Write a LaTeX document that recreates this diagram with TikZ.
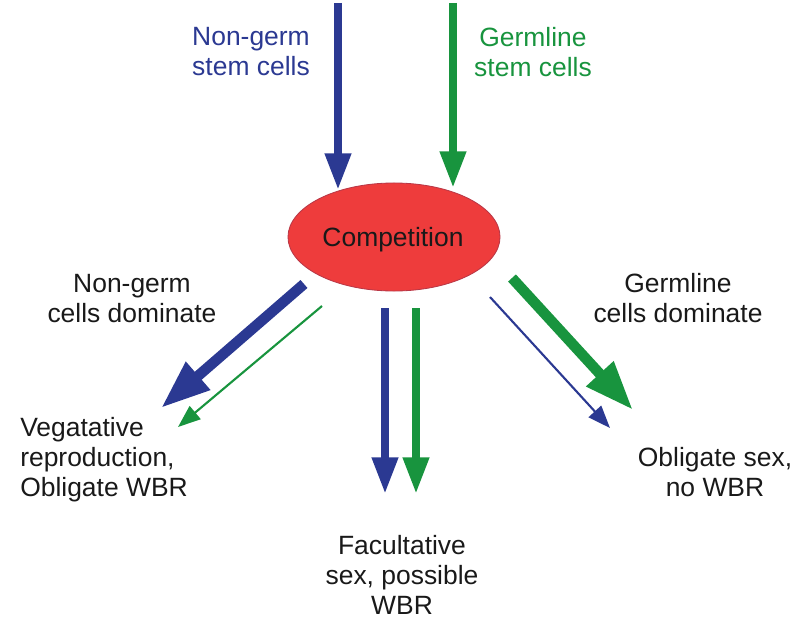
\documentclass[tikz,border=0pt]{standalone}
\usepackage{fontspec}
\setmainfont{Liberation Sans}
\usetikzlibrary{arrows.meta,shapes.geometric}
\definecolor{ngblue}{RGB}{43,57,146}
\definecolor{glgreen}{RGB}{24,148,62}
\definecolor{compred}{RGB}{238,60,60}
\definecolor{compedge}{RGB}{185,55,70}
\definecolor{txtgray}{RGB}{25,25,25}

\begin{document}
\begin{tikzpicture}
        [x=0.025cm,y=-0.025cm,
         label/.style={font=\fontsize{18.8}{21.3}\selectfont,text=txtgray,align=center,inner sep=0pt},
         vert/.style={line width=5.7pt,-{Triangle[length=26pt,width=17.5pt]}},
         fat/.style={line width=7.5pt,-{Triangle[length=35pt,width=24.5pt]}},
         thin/.style={line width=1.5pt,-{Triangle[length=16pt,width=12pt]}}]

        \useasboundingbox (0,0) rectangle (800,623);

        \node[ellipse,fill=compred,draw=compedge,line width=0.6pt,
              minimum width=5.3cm,minimum height=2.7cm,inner sep=0pt] (competition) at (394,237) {};
        \node[label] at (393,240) {Competition};

        % inputs
        \node[label,text=ngblue]   (ngstem) at (251,52) {Non-germ\\stem cells};
        \node[label,text=glgreen]  (glstem) at (533,52) {Germline\\stem cells};
        \coordinate (ng in)  at (338,3);
        \coordinate (ng hit) at (338,190);
        \coordinate (gl in)  at (453,3);
        \coordinate (gl hit) at (453,188);
        \draw[vert,ngblue]  (ng in) -- (ng hit);
        \draw[vert,glgreen] (gl in) -- (gl hit);

        % outcomes
        \node[label] (ngdom) at (132,299) {Non-germ\\cells dominate};
        \node[label] (gldom) at (678,298) {Germline\\cells dominate};
        \node[label,align=left,anchor=west] (veg) at (20,460) {Vegatative\\reproduction,\\Obligate WBR};
        \node[label] (fac) at (402,575) {Facultative\\sex, possible\\WBR};
        \node[label] (obl) at (715,472) {Obligate sex,\\no WBR};

        \coordinate (left fat)    at (304,284);
        \coordinate (left fat e)  at (161,408);
        \coordinate (left thin)   at (322,306);
        \coordinate (left thin e) at (178,427);
        \coordinate (mid b)       at (385,308);
        \coordinate (mid b e)     at (385,494);
        \coordinate (mid g)       at (416,308);
        \coordinate (mid g e)     at (416,494);
        \coordinate (right fat)   at (512,278);
        \coordinate (right fat e) at (633,410);
        \coordinate (right thin)  at (490,297);
        \coordinate (right thin e) at (610,428);

        \draw[fat,ngblue]   (left fat)   -- (left fat e);
        \draw[thin,glgreen] (left thin)  -- (left thin e);
        \draw[vert,ngblue]  (mid b)      -- (mid b e);
        \draw[vert,glgreen] (mid g)      -- (mid g e);
        \draw[fat,glgreen]  (right fat)  -- (right fat e);
        \draw[thin,ngblue]  (right thin) -- (right thin e);

    \end{tikzpicture}
\end{document}
